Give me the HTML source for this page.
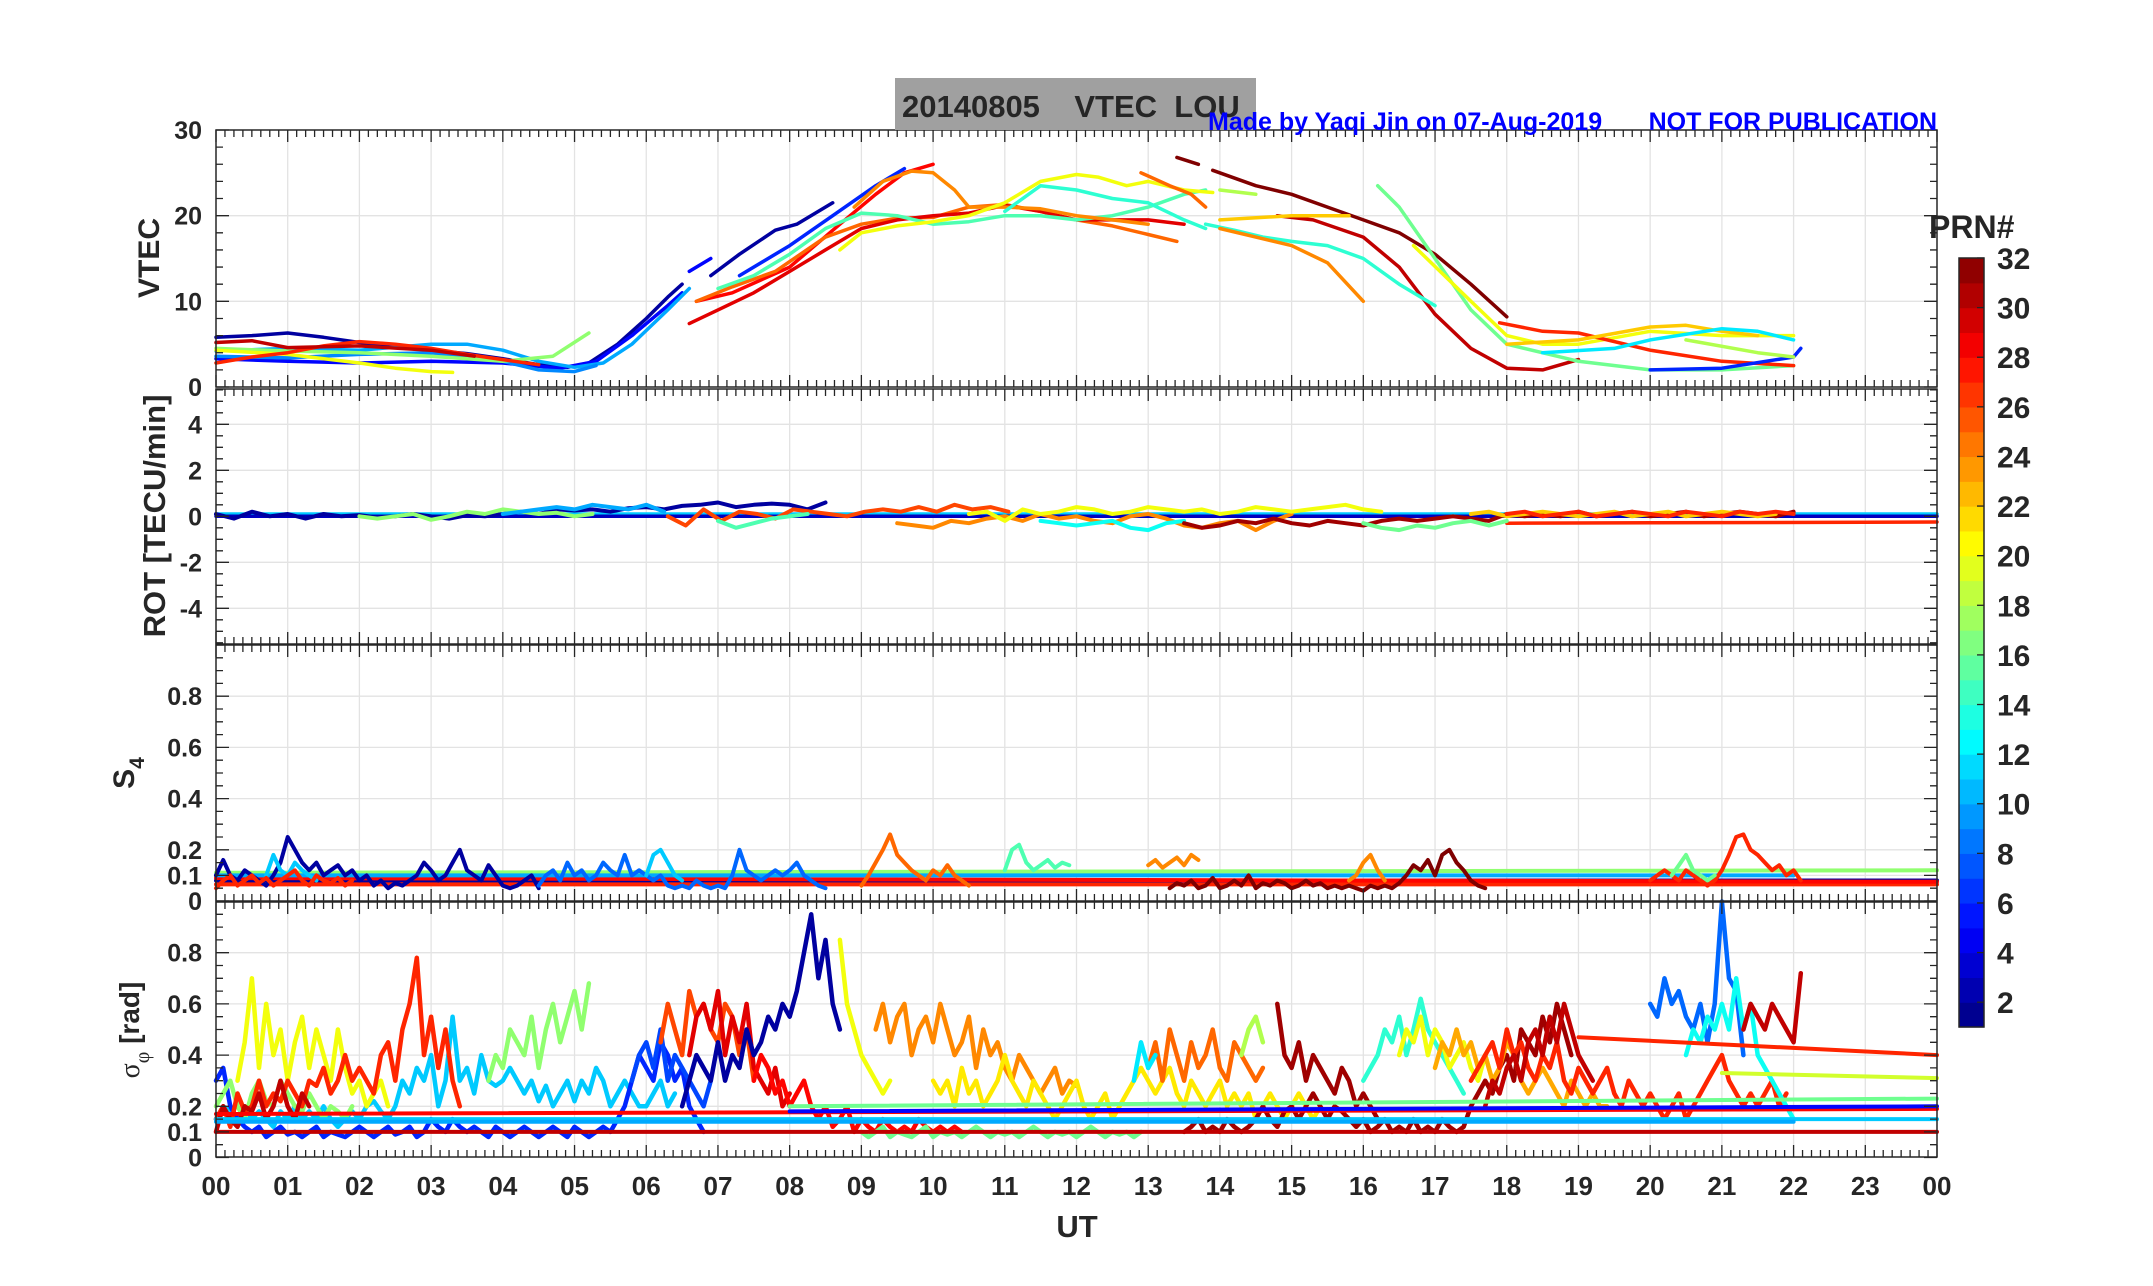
<!DOCTYPE html>
<html><head><meta charset="utf-8"><title>20140805 VTEC LOU</title>
<style>
html,body{margin:0;padding:0;background:#fff;}
svg{display:block;}
text{font-family:"Liberation Sans Narrow","Liberation Sans",sans-serif;font-weight:bold;fill:#262626;}
</style></head>
<body>
<svg id="chart" width="2153" height="1286" viewBox="0 0 2153 1286" xmlns="http://www.w3.org/2000/svg">
<rect x="0" y="0" width="2153" height="1286" fill="#fff"/>
<g id="grid"></g>
<g id="marks"></g>
<g id="axes"></g>
<rect x="895" y="78" width="361" height="52" fill="#a0a0a0"/>
<text x="902" y="117" font-size="31" xml:space="preserve" style="font-family:'Liberation Sans',sans-serif">20140805    VTEC  LOU</text>
<text x="1208" y="130" font-size="25" style="fill:#0000ff;font-family:'Liberation Sans',sans-serif">Made by Yaqi Jin on 07-Aug-2019</text>
<text x="1937" y="130" font-size="25" text-anchor="end" style="fill:#0000ff;font-family:'Liberation Sans',sans-serif">NOT FOR PUBLICATION</text>
<text x="0" y="0" font-size="30" text-anchor="middle" transform="translate(159,258) rotate(-90)" style="font-family:'Liberation Sans',sans-serif">VTEC</text>
<text x="0" y="0" font-size="31" text-anchor="middle" transform="translate(165,516) rotate(-90)" style="font-family:'Liberation Sans',sans-serif">ROT [TECU/min]</text>
<text x="0" y="0" font-size="30" text-anchor="middle" transform="translate(134,773) rotate(-90)" style="font-family:'Liberation Sans',sans-serif">S<tspan font-size="21" dy="10">4</tspan></text>
<text x="0" y="0" font-size="28" text-anchor="middle" transform="translate(139,1030) rotate(-90)" style="font-family:'Liberation Sans',sans-serif"><tspan font-weight="normal" font-family="'Liberation Serif',serif">σ</tspan><tspan font-size="20" dy="10" font-weight="normal" font-family="'Liberation Serif',serif">φ</tspan><tspan dy="-10"> [rad]</tspan></text>
<text x="1077" y="1237" font-size="31" text-anchor="middle">UT</text>
<g id="cbar"></g>
<text x="1929" y="238" font-size="32" style="font-family:'Liberation Sans',sans-serif">PRN#</text>
</svg>
<script>
// ---------- data ----------
const hourLabels = ["00","01","02","03","04","05","06","07","08","09","10","11","12","13","14","15","16","17","18","19","20","21","22","23","00"];
const vtecTicks = [0,10,20,30];
const rotTicks = [-4,-2,0,2,4];
const s4Ticks = [0,0.1,0.2,0.4,0.6,0.8];
const sigTicks = [0,0.1,0.2,0.4,0.6,0.8];
const cbarTicks = [2,4,6,8,10,12,14,16,18,20,22,24,26,28,30,32];

// VTEC series: prn + [hour, TECU] points
const vtecSeries = [
 {prn:2, p:[[0,5.8],[0.5,6],[1,6.3],[1.5,5.8],[2,5.2],[2.5,4.8],[3,4.3],[3.5,3.9],[4,3.3],[4.5,2.6],[4.9,2.3],[5.2,2.8],[5.6,5],[6,8],[6.3,10.5],[6.5,12]]},
 {prn:2, p:[[6.9,13],[7.3,15.5],[7.8,18.3],[8.1,19],[8.6,21.5]]},
 {prn:5, p:[[0,3.3],[1,3],[2,2.8],[3,3],[4,2.8],[4.8,2.2],[5.3,3],[5.8,6],[6.3,9.5],[6.5,11]]},
 {prn:5, p:[[6.6,13.5],[6.9,15]]},
 {prn:6, p:[[7.3,13],[8,16.5],[8.6,20],[9.2,23.5],[9.6,25.5]]},
 {prn:10, p:[[0,4.2],[1,4.5],[2,4.3],[3,5],[3.5,5],[4,4.3],[4.5,3],[5,2.3],[5.4,2.8],[5.8,5],[6.3,9],[6.6,11.5]]},
 {prn:9, p:[[0,3.6],[1,3.4],[2,3.8],[3,4],[4,3],[4.5,2],[5,1.8],[5.3,2.5]]},
 {prn:17, p:[[0,4.5],[1,4.2],[2,4],[3,3.6],[4,3],[4.7,3.6],[5.2,6.3]]},
 {prn:20, p:[[0,4.3],[1,3.8],[2,2.8],[2.5,2.2],[3,1.8],[3.3,1.7]]},
 {prn:27, p:[[0,2.8],[0.5,3.5],[1,4],[1.5,4.8],[2,5.3],[2.5,5],[3,4.5],[3.5,3.8],[4,3.2],[4.5,2.6]]},
 {prn:30, p:[[0,5.2],[0.5,5.4],[1,4.6],[2,4.8],[3,4.3],[3.6,3.6]]},
 {prn:28, p:[[6.7,10],[7.2,11],[8,14],[8.7,19],[9.2,22.5],[9.6,25],[10,26]]},
 {prn:25, p:[[6.7,10],[7.2,11.7],[7.8,13.5],[8.5,17.5],[9,19],[9.5,19.7],[10,19.8],[10.5,21],[11,21.3],[11.5,20.5],[12,19.5],[12.5,18.8],[13,17.8],[13.4,17]]},
 {prn:29, p:[[6.6,7.4],[7,9],[7.5,11],[8,13.5],[8.5,16],[9,18.5],[9.5,19.5],[10,20],[10.5,20.3],[11,21.2],[11.5,20.5],[12,19.5],[13,19.5],[13.5,19]]},
 {prn:15, p:[[7,11.5],[7.5,13],[8,15.5],[8.5,18.5],[9,20.3],[9.5,20],[10,19],[10.5,19.3],[11,20],[11.5,20],[12,19.5],[12.5,20],[13,21],[13.5,22.5],[13.8,23]]},
 {prn:24, p:[[8.9,21],[9.3,24],[9.7,25.2],[10,25],[10.3,23],[10.5,21],[11,21],[11.5,20.8],[12,20],[12.5,19.5],[13,19]]},
 {prn:20, p:[[8.7,16],[9,18],[9.5,18.8],[10,19.3],[10.5,20],[11,21.5],[11.5,24],[12,24.8],[12.3,24.5],[12.7,23.5],[13,24],[13.5,23],[13.9,22.7]]},
 {prn:14, p:[[11,20.5],[11.5,23.5],[12,23],[12.5,22],[13,21.5],[13.5,19.5],[13.8,18.5]]},
 {prn:25, p:[[12.9,25],[13.3,23.5],[13.6,22.5],[13.8,21]]},
 {prn:32, p:[[13.4,26.8],[13.7,26]]},
 {prn:32, p:[[13.9,25.3],[14.5,23.5],[15,22.5],[15.5,21],[16,19.5],[16.5,18],[17,15.5],[17.5,12],[18,8.2]]},
 {prn:30, p:[[14.8,20],[15.3,19.5],[16,17.5],[16.5,14],[17,8.5],[17.5,4.5],[18,2.2],[18.5,2],[19,3.2]]},
 {prn:14, p:[[13.8,19],[14.2,18.3],[14.6,17.5],[15,17],[15.5,16.5],[16,15],[16.5,12],[17,9.5]]},
 {prn:24, p:[[14,18.5],[14.5,17.5],[15,16.5],[15.5,14.5],[16,10]]},
 {prn:22, p:[[14,19.5],[15,20],[15.8,20]]},
 {prn:18, p:[[14,23],[14.5,22.5]]},
 {prn:16, p:[[16.2,23.5],[16.5,21],[17,15],[17.5,9],[18,5],[19,3],[20,2],[21,2],[22,2.5]]},
 {prn:20, p:[[16.7,16.5],[17.5,10],[18,6],[18.5,5],[19,5],[20,6.5],[21,6],[22,6]]},
 {prn:27, p:[[17.9,7.5],[18.5,6.5],[19,6.3],[20,4.3],[21,3],[22,2.5]]},
 {prn:22, p:[[18,5],[19,5.5],[20,7],[20.5,7.2],[21,6.5],[21.5,6]]},
 {prn:12, p:[[18.5,4],[19.5,4.5],[20,5.5],[21,6.8],[21.5,6.5],[22,5.5]]},
 {prn:6, p:[[20,2],[21,2.2],[22,3.5],[22.1,4.5]]},
 {prn:18, p:[[20.5,5.5],[21.5,4],[22,3.5]]}
];

// ROT series: prn, start hour, step, values (TECU/min)
const rotSeries = [
 {prn:2, t0:0, dt:0.25, v:[0.1,-0.1,0.2,0,0.1,-0.1,0.1,0,0.05,-0.05,0,0.1,0,-0.1,0.05,0,0.1,0.2,0.1,0.3,0.25,0.3,0.2,0.35,0.4,0.3,0.45,0.5,0.6,0.4,0.5,0.55,0.5,0.3,0.6]},
 {prn:17, t0:2, dt:0.25, v:[0,-0.1,0,0.1,-0.15,0,0.2,0.1,0.3,0.2,0.1,0.15,0,0.1]},
 {prn:10, t0:4, dt:0.25, v:[0.1,0.2,0.3,0.4,0.3,0.5,0.4,0.3,0.5,0.2]},
 {prn:26, t0:6.3, dt:0.25, v:[0,-0.4,0.3,-0.2,0.2,0.1,-0.1,0.3,0.2,0.1,0,0.2,0.3,0.2,0.4,0.2,0.5,0.3,0.4,0.2]},
 {prn:15, t0:7, dt:0.25, v:[-0.2,-0.5,-0.3,-0.1,0,0.1]},
 {prn:24, t0:9.5, dt:0.25, v:[-0.3,-0.4,-0.5,-0.2,-0.3,-0.1,0,-0.2,0.1,-0.1,0,-0.2,-0.3,0,0.1,-0.1,-0.4,-0.5,-0.3,-0.2,-0.6,-0.2,0.1]},
 {prn:20, t0:10.5, dt:0.25, v:[0.1,0.2,-0.2,0.3,0.1,0.2,0.4,0.3,0.1,0.2,0.4,0.3,0.2,0.3,0.1,0.2,0.4,0.3,0.2,0.3,0.4,0.5,0.3,0.2]},
 {prn:13, t0:11.5, dt:0.25, v:[-0.2,-0.3,-0.4,-0.3,-0.2,-0.5,-0.6,-0.3,-0.2]},
 {prn:31, t0:13.5, dt:0.25, v:[-0.3,-0.5,-0.4,-0.2,-0.3,-0.1,-0.3,-0.4,-0.2,-0.3,-0.4,-0.2,-0.1,-0.2,-0.1,0,-0.1,-0.2,0.1,0,0.1,0,0.2,0,0.1,0.2,0,0.1,0.2,0,0.1,0.2,0.1,0,0.2]},
 {prn:16, t0:16, dt:0.25, v:[-0.3,-0.5,-0.6,-0.4,-0.5,-0.3,-0.2,-0.4,-0.2]},
 {prn:22, t0:17.5, dt:0.25, v:[0.1,0.2,0,0.1,0.2,0.1,0,0.1,0.2,0,0.1,0.2,0,0.1,0.2,0.1,0,0.1]},
 {prn:27, t0:18, dt:0.25, v:[0.1,0.2,0,0.1,0.2,0,0.1,0.2,0.1,0,0.2,0.1,0,0.2,0.1,0.2,0.1]}
];
const rotTrails = [
 {prn:11, t:[0,24], v:[0.1,0.1]},
 {prn:3, t:[0,24], v:[0,0]},
 {prn:27, t:[18,24], v:[-0.3,-0.25]}
];

// S4 series
const s4Series = [
 {prn:2, t0:0, dt:0.1, v:[0.1,0.16,0.1,0.08,0.12,0.1,0.08,0.06,0.1,0.15,0.25,0.2,0.15,0.12,0.15,0.1,0.12,0.14,0.1,0.12,0.08,0.1,0.06,0.08,0.05,0.07,0.06,0.08,0.1,0.15,0.12,0.08,0.1,0.15,0.2,0.12,0.1,0.08,0.14,0.1,0.06,0.05,0.06,0.08,0.1,0.05]},
 {prn:8, t0:4.5, dt:0.1, v:[0.06,0.1,0.12,0.08,0.15,0.1,0.12,0.08,0.1,0.15,0.12,0.1,0.18,0.1,0.12,0.1,0.08,0.1,0.06,0.05,0.06,0.05,0.08,0.06,0.05,0.06,0.05,0.1,0.2,0.12,0.1,0.08,0.1,0.12,0.1,0.12,0.15,0.1,0.08,0.06,0.05]},
 {prn:11, t0:0.7, dt:0.1, v:[0.1,0.18,0.12,0.1,0.15,0.12,0.1,0.08]},
 {prn:11, t0:6, dt:0.1, v:[0.1,0.18,0.2,0.15,0.1,0.08]},
 {prn:27, t0:0, dt:0.1, v:[0.05,0.08,0.1,0.06,0.08,0.1,0.07,0.09,0.06,0.08,0.1,0.12,0.08,0.06,0.1,0.08,0.07,0.09,0.06,0.08]},
 {prn:25, t0:9, dt:0.1, v:[0.06,0.1,0.15,0.2,0.26,0.18,0.15,0.12,0.1,0.08,0.12,0.1,0.14,0.1,0.08,0.06]},
 {prn:24, t0:13, dt:0.1, v:[0.14,0.16,0.13,0.15,0.17,0.14,0.18,0.16]},
 {prn:15, t0:11, dt:0.1, v:[0.12,0.2,0.22,0.15,0.12,0.14,0.16,0.13,0.15,0.14]},
 {prn:32, t0:13.3, dt:0.1, v:[0.05,0.07,0.06,0.08,0.05,0.06,0.09,0.05,0.06,0.08,0.06,0.1,0.05,0.07,0.06,0.08,0.07,0.05,0.06,0.08,0.06,0.07,0.05,0.06,0.05,0.06,0.05,0.04,0.06,0.05,0.06,0.05,0.07,0.1,0.14,0.12,0.16,0.1,0.18,0.2,0.15,0.12,0.08,0.06,0.05]},
 {prn:24, t0:15.8, dt:0.1, v:[0.08,0.1,0.15,0.18,0.12,0.08]},
 {prn:27, t0:20, dt:0.1, v:[0.08,0.1,0.12,0.1,0.08,0.12,0.1,0.08,0.06,0.08,0.12,0.18,0.25,0.26,0.2,0.18,0.15,0.12,0.14,0.1,0.12,0.08]},
 {prn:16, t0:20.3, dt:0.1, v:[0.1,0.14,0.18,0.12,0.1,0.08,0.1]}
];
const s4Trails = [
 {prn:17, t:[0,24], v:[0.11,0.12]},
 {prn:2, t:[0,24], v:[0.08,0.08]},
 {prn:27, t:[0,24], v:[0.065,0.065]},
 {prn:28, t:[0,24], v:[0.09,0.075]},
 {prn:10, t:[0,22], v:[0.1,0.1]}
];

// sigma-phi series
const sigSeries = [
 {prn:11, t0:0, dt:0.1, v:[0.15,0.2,0.18,0.15,0.2,0.15,0.18,0.15,0.12,0.18,0.15,0.2,0.15,0.18,0.15,0.2,0.15,0.12,0.15,0.18,0.15,0.2,0.22,0.18,0.15,0.2,0.3,0.25,0.35,0.3,0.4,0.2,0.3,0.55,0.3,0.35,0.25,0.4,0.3,0.28,0.3,0.35,0.3,0.25,0.3,0.22,0.28,0.2,0.25,0.3,0.22,0.3,0.25,0.35,0.3,0.2,0.25,0.3,0.25,0.2,0.2,0.25,0.3,0.2,0.25]},
 {prn:6, t0:0, dt:0.1, v:[0.3,0.35,0.2,0.15,0.12,0.1,0.12,0.08,0.1,0.12,0.09,0.1,0.08,0.1,0.12,0.08,0.1,0.09,0.08,0.1,0.12,0.1,0.08,0.1,0.12,0.09,0.1,0.12,0.08,0.1,0.15,0.12,0.1,0.15,0.12,0.1,0.12,0.1,0.08,0.12,0.1,0.08,0.1,0.12,0.1,0.08,0.1,0.12,0.1,0.08,0.12,0.1,0.08,0.1,0.12,0.1,0.15,0.2,0.3,0.4,0.35,0.3,0.45,0.4,0.3,0.35,0.2,0.15,0.1]},
 {prn:17, t0:0, dt:0.1, v:[0.2,0.25,0.3,0.2,0.15,0.25,0.3,0.22,0.2,0.3,0.25,0.2,0.18,0.25,0.2,0.15,0.2,0.18,0.15,0.2]},
 {prn:20, t0:0.3, dt:0.1, v:[0.3,0.45,0.7,0.35,0.6,0.4,0.5,0.3,0.45,0.55,0.35,0.5,0.4,0.3,0.5,0.35,0.25,0.3,0.2,0.25,0.3,0.2]},
 {prn:27, t0:0, dt:0.1, v:[0.15,0.2,0.12,0.25,0.18,0.2,0.3,0.2,0.25,0.22,0.3,0.25,0.2,0.3,0.28,0.35,0.25,0.3,0.4,0.3,0.35,0.3,0.25,0.4,0.45,0.3,0.5,0.6,0.78,0.4,0.55,0.35,0.5,0.3,0.2]},
 {prn:30, t0:0, dt:0.1, v:[0.1,0.2,0.15,0.12,0.2,0.18,0.25,0.15,0.2,0.3,0.2,0.15,0.25,0.2]},
 {prn:17, t0:3.8, dt:0.1, v:[0.3,0.4,0.35,0.5,0.45,0.4,0.55,0.35,0.5,0.6,0.45,0.55,0.65,0.5,0.68]},
 {prn:7, t0:5.8, dt:0.1, v:[0.3,0.4,0.45,0.35,0.5,0.3,0.4,0.35,0.3,0.25,0.2,0.3]},
 {prn:26, t0:6.2, dt:0.1, v:[0.45,0.6,0.5,0.4,0.65,0.55,0.6,0.5,0.45,0.6,0.55,0.4,0.5,0.3]},
 {prn:29, t0:6.6, dt:0.1, v:[0.4,0.55,0.6,0.5,0.65,0.4,0.55,0.45,0.6,0.35,0.3,0.25,0.35,0.2,0.25]},
 {prn:2, t0:6.5, dt:0.1, v:[0.2,0.3,0.4,0.35,0.3,0.45,0.3,0.4,0.35,0.5,0.4,0.45,0.55,0.5,0.6,0.55,0.65,0.8,0.95,0.7,0.85,0.6,0.5]},
 {prn:20, t0:8.7, dt:0.1, v:[0.85,0.6,0.5,0.4,0.35,0.3,0.25,0.3]},
 {prn:28, t0:7.5, dt:0.1, v:[0.3,0.4,0.35,0.25,0.3,0.2,0.25,0.3,0.2,0.15,0.2,0.12,0.15,0.2,0.1,0.15,0.12,0.1,0.15,0.12,0.1,0.12,0.1,0.15,0.12,0.1,0.12,0.1,0.12,0.1]},
 {prn:24, t0:9.2, dt:0.1, v:[0.5,0.6,0.45,0.55,0.6,0.4,0.5,0.55,0.45,0.6,0.5,0.4,0.45,0.55,0.35,0.5,0.4,0.45,0.35,0.3,0.4,0.35,0.3,0.25,0.3,0.35,0.25,0.3,0.28]},
 {prn:16, t0:9, dt:0.1, v:[0.1,0.08,0.1,0.12,0.08,0.1,0.09,0.08,0.1,0.12,0.08,0.1,0.09,0.1,0.08,0.1,0.12,0.1,0.08,0.1,0.09,0.1,0.08,0.1,0.12,0.1,0.08,0.1,0.09,0.1,0.08,0.1,0.12,0.1,0.08,0.1,0.09,0.1,0.08,0.1]},
 {prn:21, t0:10, dt:0.1, v:[0.3,0.25,0.3,0.2,0.35,0.25,0.3,0.2,0.25,0.3,0.4,0.3,0.25,0.2,0.3,0.25,0.2,0.15,0.2,0.25,0.3,0.2,0.15,0.2,0.25,0.15,0.2,0.25,0.3,0.35,0.3,0.25,0.3,0.35,0.25,0.2,0.3,0.25,0.2,0.25,0.3,0.2,0.25,0.2,0.25,0.15,0.2,0.25,0.2,0.15,0.2,0.25,0.2,0.15,0.2]},
 {prn:25, t0:13, dt:0.1, v:[0.35,0.45,0.3,0.5,0.4,0.3,0.45,0.35,0.4,0.5,0.35,0.3,0.45,0.4,0.35,0.3,0.35]},
 {prn:12, t0:12.8, dt:0.1, v:[0.3,0.45,0.35,0.4]},
 {prn:18, t0:14.3, dt:0.1, v:[0.4,0.5,0.55,0.45]},
 {prn:31, t0:13.5, dt:0.1, v:[0.1,0.12,0.15,0.1,0.12,0.1,0.15,0.12,0.1,0.12,0.15,0.2,0.15,0.12,0.18,0.2,0.15,0.2,0.25,0.2,0.15,0.2,0.18,0.15,0.12,0.15,0.1,0.12,0.15,0.1,0.12,0.1,0.15,0.1,0.12,0.1,0.15,0.12,0.1,0.12,0.2,0.25,0.3,0.25,0.35,0.4,0.3,0.5,0.45,0.4,0.55,0.45,0.6,0.5,0.4]},
 {prn:31, t0:14.8, dt:0.1, v:[0.6,0.4,0.35,0.45,0.3,0.4,0.35,0.3,0.25,0.35,0.3,0.2,0.25,0.2,0.15]},
 {prn:14, t0:16, dt:0.1, v:[0.3,0.35,0.4,0.5,0.45,0.55,0.4,0.5,0.62,0.5,0.45,0.4,0.35,0.3,0.25]},
 {prn:20, t0:16.5, dt:0.1, v:[0.4,0.5,0.45,0.55,0.4,0.5,0.45,0.35,0.4,0.45,0.35,0.3,0.4,0.3,0.35]},
 {prn:23, t0:17, dt:0.1, v:[0.35,0.45,0.4,0.5,0.4,0.45,0.35,0.4,0.3,0.35,0.45,0.4,0.3,0.25,0.3,0.35,0.3,0.25,0.2,0.3,0.25,0.2,0.25,0.2,0.2]},
 {prn:27, t0:17.5, dt:0.1, v:[0.3,0.35,0.4,0.45,0.35,0.5,0.4,0.45,0.35,0.3,0.4,0.35,0.45,0.3,0.25,0.35,0.3,0.25,0.3,0.35,0.25,0.2,0.3,0.25,0.2,0.25,0.2,0.15,0.2,0.25,0.15,0.2,0.25,0.3,0.35,0.4,0.3,0.25,0.2,0.25,0.2,0.25,0.3,0.2,0.25]},
 {prn:30, t0:17.7, dt:0.1, v:[0.2,0.3,0.25,0.35,0.4,0.3,0.45,0.5,0.4,0.55,0.45,0.6,0.5,0.4,0.35,0.3]},
 {prn:8, t0:20, dt:0.1, v:[0.6,0.55,0.7,0.6,0.65,0.55,0.5,0.6,0.45,0.6,1.0,0.7,0.65,0.4]},
 {prn:13, t0:20.5, dt:0.1, v:[0.4,0.5,0.45,0.55,0.5,0.6,0.5,0.7,0.5,0.6,0.4,0.35,0.3,0.25,0.2,0.15]},
 {prn:30, t0:21.3, dt:0.1, v:[0.5,0.6,0.55,0.5,0.6,0.55,0.5,0.45,0.72]}
];
const sigTrails = [
 {prn:11, t:[0,24], v:[0.15,0.15]},
 {prn:10, t:[0,22], v:[0.14,0.14]},
 {prn:30, t:[0,24], v:[0.1,0.1]},
 {prn:28, t:[0,24], v:[0.17,0.19]},
 {prn:16, t:[8,24], v:[0.2,0.23]},
 {prn:5, t:[8,24], v:[0.18,0.2]},
 {prn:19, t:[21,24], v:[0.33,0.31]},
 {prn:27, t:[19,24], v:[0.47,0.4]}
];

// ---------- geometry ----------
const L=216, R=1937, W=R-L;
const panels=[{top:130,bot:387},{top:389,bot:644},{top:645,bot:901},{top:902,bot:1157}];
const xs=t=>L+t*W/24;
const yV=v=>387-v/30*257;
const yR=v=>516.3-v*23;
const yS=v=>901-v*256;
const yP=v=>1157.5-v*256;
function jet(prn){
  const v=(prn-1)/31;
  const c=x=>Math.round(255*Math.max(0,Math.min(1,x)));
  return `rgb(${c(1.5-Math.abs(4*v-3))},${c(1.5-Math.abs(4*v-2))},${c(1.5-Math.abs(4*v-1))})`;
}
const NS="http://www.w3.org/2000/svg";
function mk(tag,attrs,parent){const e=document.createElementNS(NS,tag);for(const k in attrs)e.setAttribute(k,attrs[k]);parent.appendChild(e);return e;}
const grid=document.getElementById('grid'), marks=document.getElementById('marks'), axes=document.getElementById('axes'), cbar=document.getElementById('cbar');

// grid
panels.forEach((p,i)=>{
  for(let h=1;h<24;h++){const l=mk('line',{x1:xs(h),x2:xs(h),y1:p.top,y2:p.bot,stroke:'#e3e3e3','stroke-width':1.3},grid);
  
  }
});
function hgrid(ticks,f,p){ticks.forEach(v=>{const y=f(v);if(y>p.top+1&&y<p.bot-1){const l=mk('line',{x1:L,x2:R,y1:y,y2:y,stroke:'#e3e3e3','stroke-width':1.3},grid);

}});}
hgrid(vtecTicks,yV,panels[0]);hgrid(rotTicks,yR,panels[1]);hgrid(s4Ticks,yS,panels[2]);hgrid(sigTicks,yP,panels[3]);

// series drawing
function drawPts(pts,prn,f,name,w){
  const d=pts.map(q=>xs(q[0]).toFixed(1)+','+f(q[1]).toFixed(1)).join(' ');
  const e=mk('polyline',{points:d,fill:'none',stroke:jet(prn),'stroke-width':w,'stroke-linejoin':'round','stroke-linecap':'round'},marks);
  
  
}
function drawSeries(arr,f,name,w){arr.forEach(s=>drawPts(s.v.map((v,i)=>[s.t0+i*s.dt,v]),s.prn,f,name,w));}
function drawTrails(arr,f,name,w){arr.forEach(s=>drawPts([[s.t[0],s.v[0]],[s.t[1],s.v[1]]],s.prn,f,name+'-trail',w));}
vtecSeries.forEach(s=>drawPts(s.p,s.prn,yV,'vtec-line',3.5));
drawTrails(rotTrails,yR,'rot-line',3.5);
drawSeries(rotSeries,yR,'rot-line',4);
drawTrails(s4Trails,yS,'s4-line',4);
drawSeries(s4Series,yS,'s4-line',4);
drawSeries(sigSeries,yP,'sigma-line',4.5);
drawTrails(sigTrails,yP,'sigma-line',4);

// axes frames, ticks
panels.forEach((p,i)=>{
  const r=mk('rect',{x:L,y:p.top,width:W,height:p.bot-p.top,fill:'none',stroke:'#262626','stroke-width':1.5},axes);
  
  
  let d='';
  for(let k=0;k<=192;k++){const x=xs(k/8);const len=(k%8===0)?12:7;d+=`M${x},${p.top}v${len}M${x},${p.bot}v${-len}`;}
  const t=mk('path',{d:d,stroke:'#262626','stroke-width':1.3,fill:'none'},axes);
  
  
});
function yAxis(ticks,f,p,fmt,minorStep,lo,hi,name){
  let d='';
  for(let v=lo;v<=hi+1e-9;v+=minorStep){const y=f(v);if(y<p.top||y>p.bot)continue;d+=`M${L},${y}h7M${R},${y}h-7`;}
  ticks.forEach(v=>{const y=f(v);d+=`M${L},${y}h13M${R},${y}h-13`;
    const tx=mk('text',{x:202,y:y+9,'font-size':25,'text-anchor':'end'},axes);tx.textContent=fmt(v);
    
    });
  const e=mk('path',{d:d,stroke:'#262626','stroke-width':1.3,fill:'none'},axes);
  
  
}
yAxis(vtecTicks,yV,panels[0],v=>String(v),2,0,30,'vtec-y');
yAxis(rotTicks,yR,panels[1],v=>String(v),0.5,-5.5,5.5,'rot-y');
yAxis(s4Ticks,yS,panels[2],v=>String(v),0.05,0,1,'s4-y');
yAxis(sigTicks,yP,panels[3],v=>String(v),0.05,0,1,'sigma-y');
hourLabels.forEach((s,i)=>{const tx=mk('text',{x:xs(i),y:1195,'font-size':26,'text-anchor':'middle'},axes);tx.textContent=s;
  
  });

// colorbar
const cbT=258, cbB=1027, cbX=1959, cbW=25;
const cy=v=>cbB-(v-1)/31*(cbB-cbT);
for(let k=1;k<=31;k++){
  const r=mk('rect',{x:cbX,y:cy(k+1),width:cbW,height:cy(k)-cy(k+1)+0.6,fill:jet(k+0.5)},cbar);
  
  
}
const cf=mk('rect',{x:cbX,y:cbT,width:cbW,height:cbB-cbT,fill:'none',stroke:'#262626','stroke-width':1.5},cbar);


cbarTicks.forEach(v=>{const y=cy(v);
  const l=mk('line',{x1:cbX+cbW,x2:cbX+cbW-7,y1:y,y2:y,stroke:'#262626','stroke-width':1.3},cbar);
  
  
  const tx=mk('text',{x:1997,y:y+11,'font-size':30,style:"font-family:'Liberation Sans',sans-serif"},cbar);tx.textContent=v;
  
  });
</script>
</body></html>
